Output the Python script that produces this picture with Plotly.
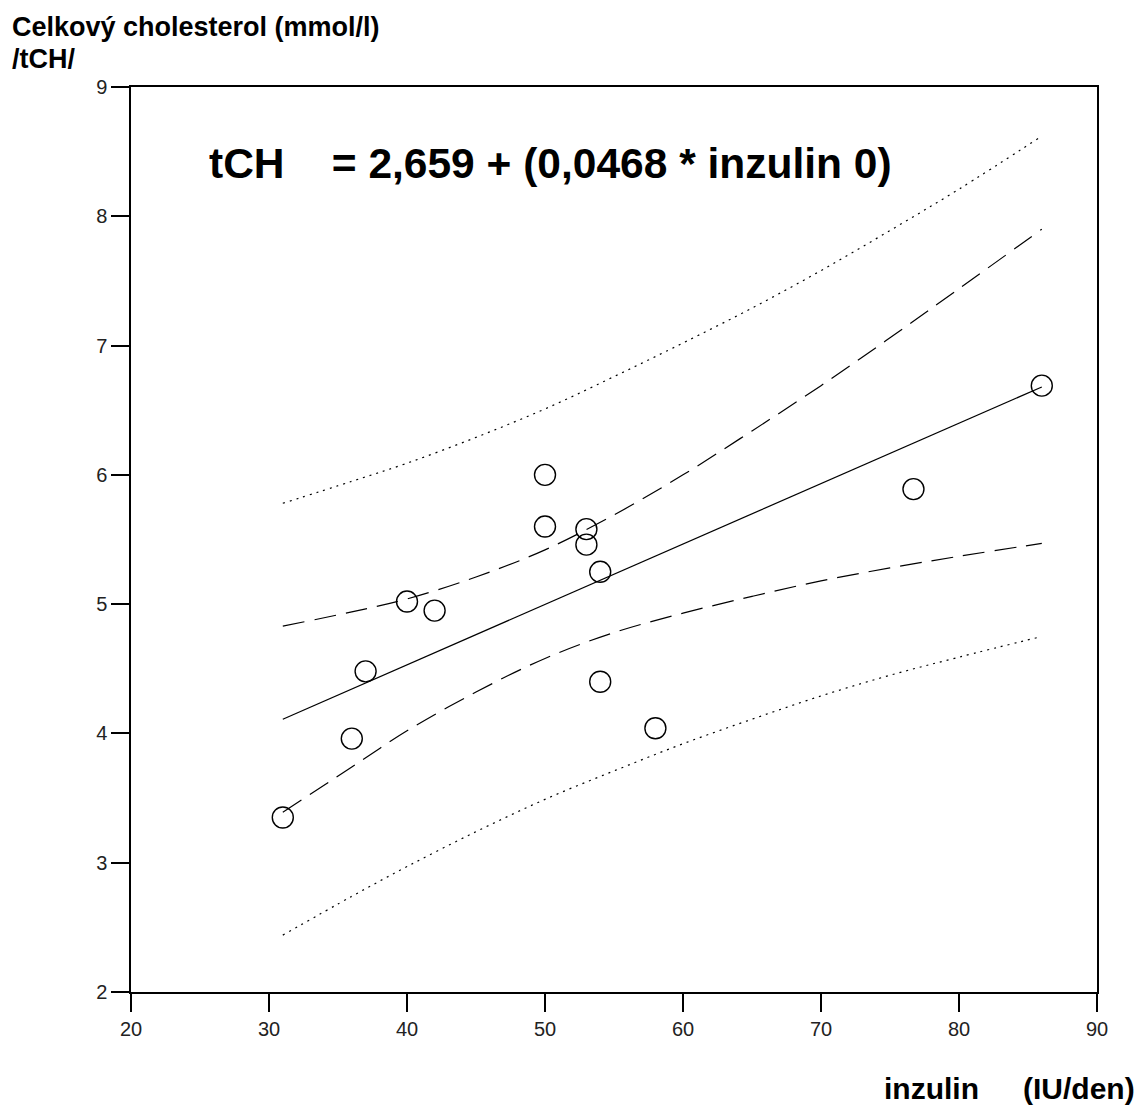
import plotly.graph_objects as go

# observed data: inzulin (IU/den) vs total cholesterol (mmol/l)
inzulin = [31, 36, 37, 40, 42, 50, 50, 53, 53, 54, 54, 58, 76.7, 86]
tch = [3.35, 3.96, 4.48, 5.02, 4.95, 6.00, 5.60, 5.58, 5.46, 5.25, 4.40, 4.04, 5.89, 6.69]

# regression line endpoints (tCH = 2,659 + 0,0468 * inzulin)
fit_x = [31, 86]
fit_y = [4.11, 6.68]

# band curves
band_x = [31, 36, 40, 45, 50, 55, 60, 65, 70, 75, 80, 86]
ci_upper = [4.83, 4.94, 5.04, 5.21, 5.42, 5.69, 6.00, 6.34, 6.69, 7.06, 7.44, 7.90]
ci_lower = [3.39, 3.74, 4.02, 4.32, 4.58, 4.78, 4.93, 5.06, 5.18, 5.28, 5.37, 5.47]
pi_upper = [5.78, 5.95, 6.09, 6.29, 6.51, 6.76, 7.02, 7.29, 7.58, 7.89, 8.21, 8.62]
pi_lower = [2.44, 2.74, 2.97, 3.24, 3.49, 3.71, 3.92, 4.11, 4.29, 4.45, 4.59, 4.75]

x_ticks = [20, 30, 40, 50, 60, 70, 80, 90]
y_ticks = [2, 3, 4, 5, 6, 7, 8, 9]

equation = "tCH    = 2,659 + (0,0468 * inzulin 0)"
y_title_1 = "Celkový cholesterol (mmol/l)"
y_title_2 = "/tCH/"
x_title_1 = "inzulin"
x_title_2 = "(IU/den)"

FONT = "Liberation Sans, Arial, sans-serif"
LINE_W = 1.2

fig = go.Figure()

for ys in (pi_upper, pi_lower):
    fig.add_trace(go.Scatter(x=band_x, y=ys, mode="lines", line_shape="spline",
                             line=dict(color="black", width=LINE_W, dash="2px,5px"),
                             hoverinfo="skip", showlegend=False))
for ys in (ci_upper, ci_lower):
    fig.add_trace(go.Scatter(x=band_x, y=ys, mode="lines", line_shape="spline",
                             line=dict(color="black", width=LINE_W, dash="22px,10px"),
                             hoverinfo="skip", showlegend=False))

fig.add_trace(go.Scatter(x=fit_x, y=fit_y, mode="lines",
                         line=dict(color="black", width=LINE_W),
                         showlegend=False))

fig.add_trace(go.Scatter(x=inzulin, y=tch, mode="markers",
                         marker=dict(symbol="circle-open", size=21,
                                     color="black", line=dict(width=1.4, color="black")),
                         showlegend=False))

axis_common = dict(showgrid=False, zeroline=False, showline=True, linecolor="black",
                   linewidth=1.5, mirror=True, ticks="outside", ticklen=18,
                   tickwidth=1.5, tickcolor="black",
                   tickfont=dict(family=FONT, size=20, color="#222"))

fig.update_xaxes(range=[20, 90], tickvals=x_ticks, ticktext=[str(v) for v in x_ticks],
                 **axis_common)
fig.update_yaxes(range=[2, 9], tickvals=y_ticks, ticktext=[str(v) for v in y_ticks],
                 **axis_common)

fig.add_annotation(text=equation, xref="paper", yref="paper", x=0.0787, y=0.916,
                   xanchor="left", yanchor="middle", showarrow=False,
                   font=dict(family=FONT, size=42.5, color="black", weight="bold"))
fig.add_annotation(text=y_title_1, xref="paper", yref="paper", x=-0.1253, y=1.0663,
                   xanchor="left", yanchor="middle", showarrow=False,
                   font=dict(family=FONT, size=27, color="black", weight="bold"))
fig.add_annotation(text=y_title_2, xref="paper", yref="paper", x=-0.1253, y=1.031,
                   xanchor="left", yanchor="middle", showarrow=False,
                   font=dict(family=FONT, size=27, color="black", weight="bold"))
fig.add_annotation(text=x_title_1, xref="paper", yref="paper", x=0.7774, y=-0.107,
                   xanchor="left", yanchor="middle", showarrow=False,
                   font=dict(family=FONT, size=30, color="black", weight="bold"))
fig.add_annotation(text=x_title_2, xref="paper", yref="paper", x=1.0414, y=-0.107,
                   xanchor="right", yanchor="middle", showarrow=False,
                   font=dict(family=FONT, size=30, color="black", weight="bold"))

fig.update_layout(width=1143, height=1106,
                  margin=dict(l=131, r=46, t=87, b=114),
                  paper_bgcolor="white", plot_bgcolor="white")

fig.write_html("out.html", config={"displayModeBar": False},
               post_script="document.body.style.margin='0';document.body.style.overflow='hidden';")
